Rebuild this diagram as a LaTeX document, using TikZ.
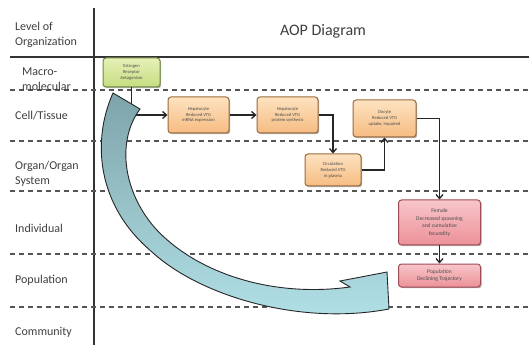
\documentclass[tikz,border=0pt]{standalone}
\usepackage{fontspec}
\setmainfont{Carlito}
\usetikzlibrary{arrows.meta,shadows}
\definecolor{lab}{HTML}{404040}
\definecolor{dash}{HTML}{555555}
\definecolor{orB}{HTML}{9A6B3C}
\definecolor{orT}{HTML}{FDE2C0}
\definecolor{orBo}{HTML}{F6BC82}
\definecolor{rdB}{HTML}{A04C56}
\definecolor{rdT}{HTML}{F7C6C9}
\definecolor{rdBo}{HTML}{EC9198}
\definecolor{grB}{HTML}{6E8A3E}
\definecolor{grT}{HTML}{E6F1B8}
\definecolor{grBo}{HTML}{C6DC80}
\definecolor{tealT}{HTML}{7EA4AA}
\definecolor{tealB}{HTML}{B2E2E8}
\tikzset{
  lvl/.style={anchor=west, text=lab, font=\fontsize{12}{14.5}\selectfont, align=left, inner sep=0pt},
  keybox/.style={rounded corners=3pt, line width=1pt, align=center, inner sep=1pt,
    font=\fontsize{4.6}{5.8}\selectfont, text=black!70,
    drop shadow={shadow xshift=1.2pt, shadow yshift=-1.2pt, opacity=.45, fill=black!70}},
  orbox/.style={keybox, draw=orB, top color=orT, bottom color=orBo},
  rdbox/.style={keybox, draw=rdB, top color=rdT, bottom color=rdBo},
  grbox/.style={keybox, draw=grB, top color=grT, bottom color=grBo},
  conn/.style={line width=1.3pt, draw=black!85, -{Straight Barb[length=4pt,width=7pt]}},
  sep/.style={line width=1.4pt, draw=dash, dash pattern=on 5pt off 4pt},
}
\begin{document}
\begin{tikzpicture}[x=1pt,y=-1pt]
\useasboundingbox (0,0) rectangle (529,352);
\fill[white] (0,0) rectangle (529,352);
% grid lines
\coordinate (hl) at (10,57); \coordinate (hr) at (529,57);
\draw[line width=1.8pt, draw=black!80] (hl) -- (hr);
\coordinate (vt) at (94,8); \coordinate (vb) at (94,345);
\draw[line width=1.8pt, draw=black!80] (vt) -- (vb);
\foreach \y/\n in {90/a,141/b,191/c,254/d,307/e}{
  \coordinate (l\n) at (10,\y); \coordinate (r\n) at (529,\y);
  \draw[sep] (l\n) -- (r\n);
}
% labels
\node[lvl] (t1) at (15,35) {Level of\\Organization};
\node[font=\fontsize{16}{18}\selectfont, text=lab] (title) at (323,31) {AOP Diagram};
\node[lvl] (t2) at (22,79) {Macro-\\molecular};
\node[lvl] (t3) at (15,116) {Cell/Tissue};
\node[lvl] (t4) at (15,174) {Organ/Organ\\System};
\node[lvl] (t5) at (15,228) {Individual};
\node[lvl] (t6) at (15,280) {Population};
\node[lvl] (t7) at (15,332) {Community};
% boxes
\node[grbox, minimum width=57pt, minimum height=29pt] (g) at (131.5,72.5) {Estrogen\\Receptor\\Antagonism};
\node[orbox, minimum width=61pt, minimum height=36pt] (b1) at (198.5,115) {Hepatocyte\\Reduced VTG\\mRNA expression};
\node[orbox, minimum width=61pt, minimum height=36pt] (b2) at (287.5,115) {Hepatocyte\\Reduced VTG\\protein synthesis};
\node[orbox, minimum width=63pt, minimum height=37pt] (oo) at (384.5,118.5) {Oocyte\\Reduced VTG\\uptake, impaired};
\node[orbox, minimum width=56pt, minimum height=32pt] (ci) at (333,170) {Circulation\\Reduced VTG\\in plasma};
\node[rdbox, minimum width=82pt, minimum height=45pt, font=\fontsize{5.6}{7.5}\selectfont] (r1) at (439.5,222.5) {Female\\Decreased spawning\\and cumulative\\fecundity};
\node[rdbox, minimum width=82pt, minimum height=23pt, font=\fontsize{5.6}{7.5}\selectfont] (r2) at (439.5,275.5) {Population\\Declining Trajectory};
% connectors
\draw[conn] (g.south) |- (b1.west);
\draw[conn] (b1.east) -- (b2.west);
\draw[conn] (b2.east) -| (ci.north);
\draw[conn] (ci.east) -| (oo.south);
\draw[conn] (oo.east) -| (r1.north);
\draw[conn] (r1.south) -- (r2.north);
% big curved arrow
\shade[top color=tealT, bottom color=tealB, draw=black!85, line width=0.9pt, line join=miter]
  (113,93) .. controls (92,140) and (96,205) .. (152,252)
  .. controls (200,296) and (300,326) .. (389,309)
  -- (387,272) -- (340,281) -- (350,287)
  .. controls (270,298) and (195,272) .. (155,228)
  .. controls (122,190) and (117,140) .. (140,109) -- cycle;
\end{tikzpicture}
\end{document}
